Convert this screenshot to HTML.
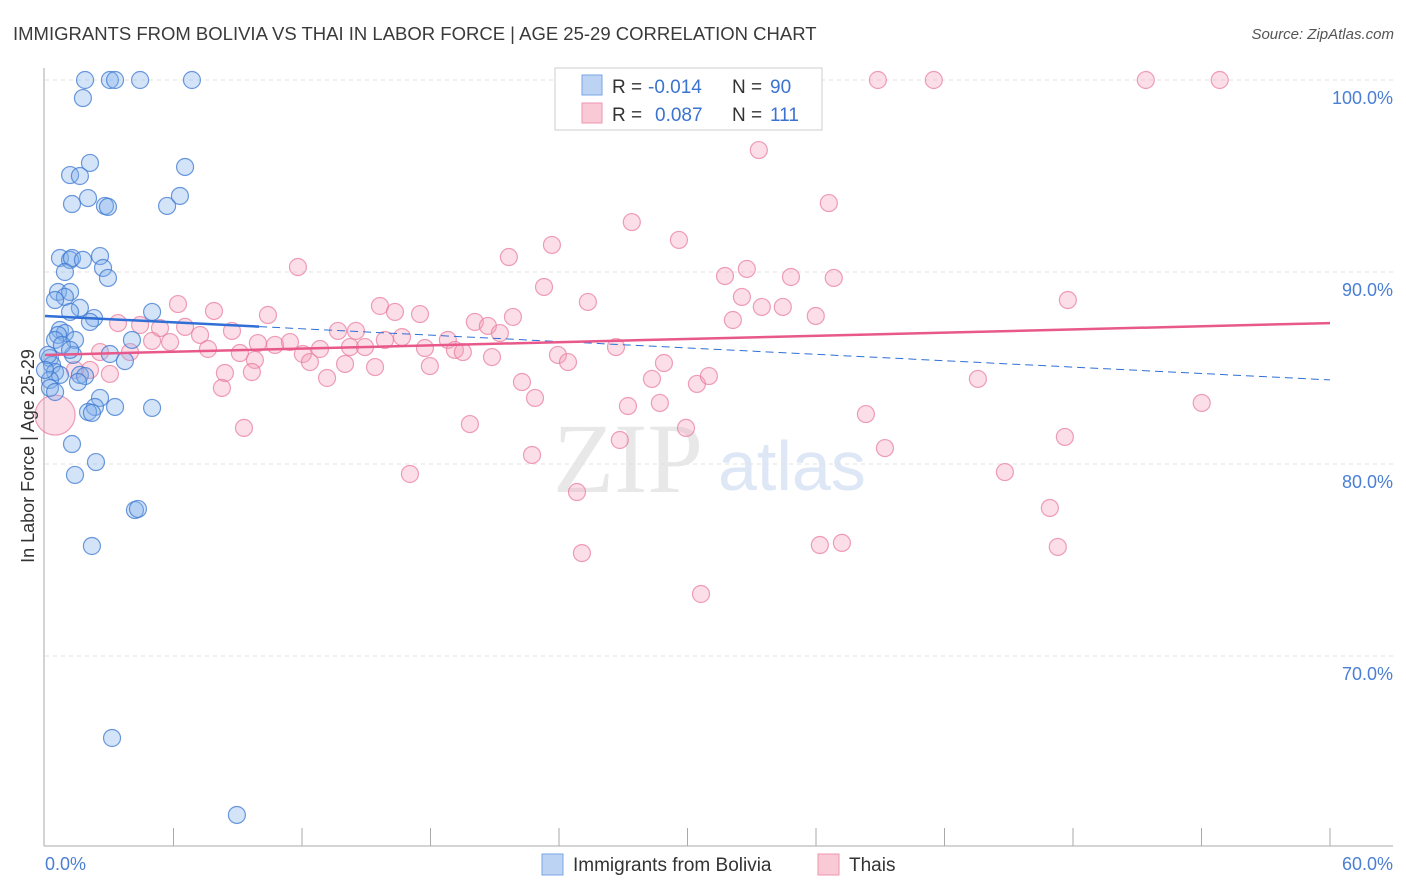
<!DOCTYPE html>
<html><head><meta charset="utf-8"><style>
body{margin:0;background:#fff;font-family:"Liberation Sans",sans-serif;}
svg{display:block}
</style></head><body>
<svg id="chart" width="1406" height="892">
<text x="13" y="40" font-size="18.5" fill="#3a3a3a">IMMIGRANTS FROM BOLIVIA VS THAI IN LABOR FORCE | AGE 25-29 CORRELATION CHART</text>
<text x="1394" y="39" font-size="15" fill="#555" font-style="italic" text-anchor="end">Source: ZipAtlas.com</text>
<text x="553" y="492" font-size="100" fill="#e8e8e8" font-family="Liberation Serif,serif">ZIP</text>
<text x="718" y="490" font-size="70" fill="#dde7f5">atlas</text>
<g id="grid"></g><g id="axes"></g><g id="pts"></g><g id="trends"></g>
<text transform="translate(34,456) rotate(-90)" font-size="18" fill="#333" text-anchor="middle">In Labor Force | Age 25-29</text>
<text x="45" y="870" font-size="18" fill="#4a7fd4">0.0%</text>
<text x="1393" y="870" font-size="18" fill="#4a7fd4" text-anchor="end">60.0%</text>
<g>
<rect x="555" y="68" width="267" height="62" fill="#fff" stroke="#ccc"/>
<rect x="582" y="75" width="20" height="20" fill="#bcd3f3" stroke="#7aa6e6"/>
<rect x="582" y="103" width="20" height="20" fill="#f9c9d6" stroke="#ee95ae"/>
<text x="612" y="93" font-size="19" fill="#333">R =</text>
<text x="648" y="93" font-size="19" fill="#3a73d0">-0.014</text>
<text x="732" y="93" font-size="19" fill="#333">N =</text>
<text x="770" y="93" font-size="19" fill="#3a73d0">90</text>
<text x="612" y="121" font-size="19" fill="#333">R =</text>
<text x="655" y="121" font-size="19" fill="#3a73d0">0.087</text>
<text x="732" y="121" font-size="19" fill="#333">N =</text>
<text x="770" y="121" font-size="19" fill="#3a73d0">111</text>
</g>
<g>
<rect x="542" y="854" width="21" height="21" fill="#bcd3f3" stroke="#7aa6e6"/>
<text x="573" y="871" font-size="19" fill="#333">Immigrants from Bolivia</text>
<rect x="818" y="854" width="21" height="21" fill="#f9c9d6" stroke="#ee95ae"/>
<text x="849" y="871" font-size="19" fill="#333">Thais</text>
</g>
</svg>
<script>
const yTicks=[100,90,80,70];
const yTickLabels=["100.0%","90.0%","80.0%","70.0%"];
const blueX=[1.87,3.03,3.27,4.44,6.86,1.77,2.10,1.17,1.63,6.54,1.26,2.01,2.80,2.94,5.70,6.30,0.70,1.17,1.26,2.57,1.77,2.71,0.93,2.94,0.61,1.17,0.93,0.47,1.63,1.17,2.29,5.00,2.10,0.70,0.93,0.61,1.40,0.47,4.06,1.31,3.03,3.73,0.23,0.33,0.47,0.70,0.23,1.63,1.87,1.54,0.23,0.47,2.57,2.33,2.01,2.19,3.27,5.00,1.26,1.40,2.38,4.20,4.34,2.19,3.13,8.96,0.14,0,0.79,1.17];
const blueY=[100,100,100,100,100,99.06,95.68,95.05,95.0,95.47,93.54,93.85,93.44,93.39,93.44,93.96,90.73,90.63,90.73,90.83,90.63,90.21,90.0,89.69,88.96,88.96,88.70,88.54,88.13,87.92,87.60,87.92,87.40,86.98,86.82,86.72,86.46,86.46,86.46,85.68,85.73,85.36,85.52,85.16,84.79,84.64,84.38,84.64,84.58,84.27,83.96,83.75,83.44,82.97,82.71,82.66,82.97,82.92,81.04,79.43,80.10,77.60,77.66,75.73,65.73,61.72,85.68,84.90,86.20,85.94];
const pinkX=[38.89,41.50,51.40,54.85,33.33,27.40,36.60,29.60,23.67,21.66,11.81,31.75,32.77,34.83,36.83,23.30,25.35,32.54,33.47,34.45,47.76,6.21,7.89,10.41,15.64,16.34,17.51,32.12,35.99,21.85,20.07,20.68,21.24,3.41,4.44,5.37,6.54,7.24,8.73,13.68,14.52,16.67,18.81,5.00,5.84,7.61,9.94,10.74,11.44,12.84,14.24,14.94,15.87,17.74,19.14,19.51,20.87,23.95,24.42,26.66,2.57,3.97,9.10,12.04,12.37,14.01,15.41,17.97,9.80,8.40,9.66,3.03,2.10,1.40,13.17,22.27,28.34,30.44,31.00,28.90,43.56,8.26,22.88,27.22,28.71,38.33,54.01,19.84,9.29,29.93,26.84,22.74,39.22,47.62,17.04,24.84,44.82,46.92,36.18,37.21,47.29,25.07,30.63,0.47];
const pinkY=[100,100,100,100,96.35,92.60,93.59,91.67,91.41,90.78,90.26,89.79,90.16,89.74,89.69,89.22,88.44,88.70,88.18,88.18,88.54,88.33,87.97,87.76,88.23,87.92,87.81,87.50,87.71,87.66,87.40,87.19,86.82,87.34,87.24,87.08,87.14,86.72,86.93,86.93,86.93,86.61,86.46,86.41,86.35,85.99,86.30,86.20,86.35,85.99,86.09,86.09,86.46,86.04,85.94,85.83,85.57,85.68,85.31,86.09,85.83,85.83,85.78,85.73,85.31,85.21,85.05,85.10,85.42,84.74,84.79,84.69,84.90,84.90,84.48,84.27,84.43,84.17,84.58,85.26,84.43,83.96,83.44,83.02,83.18,82.60,83.18,82.08,81.88,81.88,81.25,80.47,80.83,81.41,79.48,78.54,79.58,77.71,75.78,75.89,75.68,75.36,73.23,82.55];
const blueTrend=[87.71,84.38]; // y at x=0 and x=60
const pinkTrend=[85.68,87.34];
const NS='http://www.w3.org/2000/svg';
const X0=45,X1=1330,Y100=80,PX10=19.2;
const sx=v=>X0+(v/60)*(X1-X0);
const sy=v=>Y100+(100-v)*PX10;
function mk(t,a,p){const e=document.createElementNS(NS,t);for(const k in a)e.setAttribute(k,a[k]);p.appendChild(e);return e;}
const grid=document.getElementById('grid'),axes=document.getElementById('axes'),pts=document.getElementById('pts'),tr=document.getElementById('trends');
yTicks.forEach((t,i)=>{
 const l=mk('line',{x1:45,x2:1393,y1:sy(t),y2:sy(t),stroke:'#e2e2e2','stroke-dasharray':'4,4'},grid);
 
 
 const tx=mk('text',{x:1393,y:sy(t)+24,'font-size':18,fill:'#4a7fd4','text-anchor':'end'},grid);
 tx.textContent=yTickLabels[i];
 
 
});
const la=mk('line',{x1:44,x2:44,y1:68,y2:846,stroke:'#aaa'},axes);


const lb=mk('line',{x1:44,x2:1393,y1:846,y2:846,stroke:'#aaa'},axes);


for(let i=1;i<=10;i++){const t=mk('line',{x1:sx(i*6),x2:sx(i*6),y1:828,y2:846,stroke:'#aaa'},axes);
 
 }
pinkX.forEach((x,i)=>{const c=mk('circle',{cx:sx(x),cy:sy(pinkY[i]),r:i===pinkX.length-1?20:8.5,fill:'rgba(244,160,186,0.35)',stroke:'rgba(232,120,155,0.7)','stroke-width':1.2},pts);
 
 });
blueX.forEach((x,i)=>{const c=mk('circle',{cx:sx(x),cy:sy(blueY[i]),r:8.5,fill:'rgba(130,175,235,0.35)',stroke:'rgba(60,120,210,0.75)','stroke-width':1.2},pts);
 
 });
const bAt=x=>blueTrend[0]+(blueTrend[1]-blueTrend[0])*x/60;
const t1=mk('line',{x1:sx(0),y1:sy(bAt(0)),x2:sx(10),y2:sy(bAt(10)),stroke:'#2f6fd6','stroke-width':2.5},tr);


const t2=mk('line',{x1:sx(10),y1:sy(bAt(10)),x2:sx(60),y2:sy(bAt(60)),stroke:'#2f6fd6','stroke-width':1,'stroke-dasharray':'8,5'},tr);


const t3=mk('line',{x1:sx(0),y1:sy(pinkTrend[0]),x2:sx(60),y2:sy(pinkTrend[1]),stroke:'#e8588a','stroke-width':2.5},tr);


</script>
</body></html>
